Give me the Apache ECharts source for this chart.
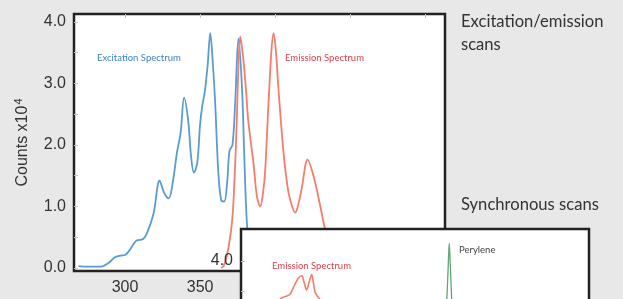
<!DOCTYPE html>
<html>
<head>
<meta charset="utf-8">
<script src="https://cdn.jsdelivr.net/npm/echarts@6.0.0/dist/echarts.min.js"></script>
<style>
  html, body { margin: 0; padding: 0; background: #e8e8e8; }
  #main { width: 623px; height: 299px; }
</style>
</head>
<body>
<div id="main"></div>
<script>
// excitation / emission scans (main plot)
const excitationNm = [269, 276, 284, 289, 293, 297, 300, 303, 306, 308, 312, 315, 319, 323, 326, 329, 332, 334.5, 337, 339.3, 342, 344, 345.8, 348, 350, 351.5, 353, 355, 356.7, 358.5, 360, 362, 364, 366, 368, 369.5, 371.5, 373.3, 375.5, 377.8, 379.3, 381, 383, 386, 390];
const excitationCounts = [0.03, 0.02, 0.02, 0.08, 0.17, 0.2, 0.21, 0.29, 0.4, 0.45, 0.47, 0.59, 0.89, 1.42, 1.22, 1.13, 1.43, 1.87, 2.2, 2.77, 2.4, 1.8, 1.55, 1.7, 2.35, 2.65, 2.85, 3.3, 3.82, 3.3, 2.68, 1.59, 1.1, 1.08, 1.4, 1.9, 2.0, 2.68, 3.73, 2.95, 1.87, 0.78, 0.3, 0.05, 0.02];

const emissionNm = [364, 365.5, 367, 369, 371, 372, 373.5, 374.4, 375.5, 376.7, 378, 379, 380.5, 382, 385.5, 387.8, 390, 392, 393.3, 395.5, 397.5, 398.9, 400.5, 402, 405.5, 408, 410, 413.3, 416, 417.8, 421.5, 425.5, 430, 433.3, 437, 445, 460];
const emissionCounts = [0.0, 0.03, 0.12, 0.35, 0.7, 1.0, 1.8, 2.4, 3.3, 3.76, 3.55, 3.33, 2.9, 2.4, 1.7, 1.16, 1.0, 1.25, 1.59, 2.68, 3.55, 3.82, 3.5, 2.95, 1.87, 1.35, 1.1, 0.9, 1.1, 1.32, 1.76, 1.49, 1.0, 0.62, 0.35, 0.1, 0.03];

// synchronous scans (inset)
const syncEmissionNm = [290, 294, 298.4, 302.4, 306.5, 310, 313.3, 316, 318, 320, 322, 324.1, 325.5, 326.8, 328.7, 331, 335, 340];
const syncEmissionCounts = [2.9, 3.2, 3.38, 3.42, 3.46, 3.6, 3.72, 3.76, 3.65, 3.53, 3.65, 3.78, 3.65, 3.5, 3.43, 3.37, 3.1, 2.8];

const peryleneNm = [430, 433, 434.3, 435.3, 436, 436.7, 437.7, 439, 442];
const peryleneCounts = [2.5, 3.0, 3.5, 4.0, 4.29, 4.0, 3.5, 3.0, 2.5];

const wavelengthTicks = [300, 350, 400, 450, 500];
const countTicks = [0, 1, 2, 3, 4];
const minorCountTicks = [0, 0.5, 1, 1.5, 2, 2.5, 3, 3.5, 4];

const pairs = (xs, ys) => xs.map((x, i) => [x, ys[i]]);

const tickFont = 'Liberation Sans, Arial, sans-serif';
const noteFont = 'Lato, Open Sans, sans-serif';

const chart = echarts.init(document.getElementById('main'));

const topTicks = (gridIndex, min, max, z) => ({
  gridIndex: gridIndex,
  type: 'value',
  position: 'top',
  min: min,
  max: max,
  z: z,
  axisLine: { show: false },
  splitLine: { show: false },
  axisLabel: { show: false },
  axisTick: { inside: true, length: 4, customValues: wavelengthTicks, lineStyle: { color: '#c4c4c4' } }
});

const option = {
  backgroundColor: '#e8e8e8',
  animation: false,
  grid: [
    { left: 74, top: 14, width: 371, height: 257, outerBoundsMode: 'none', show: true, backgroundColor: '#fff', borderColor: '#222', borderWidth: 2.5, z: 0 },
    // inset runs off the bottom of the picture
    { left: 241, top: 229, width: 348, height: 278, outerBoundsMode: 'none', show: true, backgroundColor: '#fff', borderColor: '#222', borderWidth: 2.5, z: 10 }
  ],
  xAxis: [
    {
      gridIndex: 0,
      type: 'value',
      min: 266,
      max: 513,
      axisLine: { show: false },
      splitLine: { show: false },
      axisTick: { show: false },
      axisLabel: { customValues: wavelengthTicks, fontSize: 16, color: '#333', margin: 9, fontFamily: tickFont }
    },
    topTicks(0, 266, 513, 0),
    topTicks(1, 266.7, 549.6, 11)
  ],
  yAxis: [
    {
      gridIndex: 0,
      type: 'value',
      min: -0.05,
      max: 4.13,
      name: '{a|Counts x10}{b|4}',
      nameLocation: 'middle',
      nameRotate: 90,
      nameGap: 41,
      nameTextStyle: {
        rich: {
          a: { fontSize: 16, color: '#333', fontFamily: tickFont },
          b: { fontSize: 11, color: '#333', fontFamily: tickFont, padding: [0, 0, 9, 1] }
        }
      },
      axisLine: { show: false },
      splitLine: { show: false },
      axisTick: { inside: true, length: 4, customValues: minorCountTicks, lineStyle: { color: '#c4c4c4' } },
      axisLabel: { customValues: countTicks, formatter: v => v.toFixed(1), fontSize: 16, color: '#333', margin: 8, fontFamily: tickFont }
    },
    {
      gridIndex: 1,
      type: 'value',
      min: 0,
      max: 4.52,
      z: 11,
      axisLine: { show: false },
      splitLine: { show: false },
      axisTick: { inside: true, length: 4, customValues: minorCountTicks, lineStyle: { color: '#c4c4c4' } },
      axisLabel: { customValues: countTicks, formatter: v => v.toFixed(1), fontSize: 16, color: '#333', margin: 8, fontFamily: tickFont }
    }
  ],
  series: [
    {
      name: 'Excitation Spectrum', type: 'line', xAxisIndex: 0, yAxisIndex: 0, z: 2,
      data: pairs(excitationNm, excitationCounts), smooth: 0.35, showSymbol: false,
      lineStyle: { color: '#5b9bd3', width: 1.8 }
    },
    {
      name: 'Emission Spectrum', type: 'line', xAxisIndex: 0, yAxisIndex: 0, z: 3,
      data: pairs(emissionNm, emissionCounts), smooth: 0.35, showSymbol: false,
      lineStyle: { color: '#f47d6b', width: 1.8 }
    },
    {
      name: 'Synchronous Emission', type: 'line', xAxisIndex: 2, yAxisIndex: 1, z: 12,
      data: pairs(syncEmissionNm, syncEmissionCounts), smooth: 0.35, showSymbol: false,
      lineStyle: { color: '#f47d6b', width: 1.6 }
    },
    {
      name: 'Perylene', type: 'line', xAxisIndex: 2, yAxisIndex: 1, z: 12,
      data: pairs(peryleneNm, peryleneCounts), smooth: 0.3, showSymbol: false,
      lineStyle: { color: '#5fa774', width: 1.3 }
    }
  ],
  graphic: [
    { type: 'text', z: 20, style: { x: 97, y: 57.5, text: 'Excitation Spectrum', fontSize: 9.5, fill: '#3f7fc0', fontFamily: noteFont, verticalAlign: 'middle' } },
    { type: 'text', z: 20, style: { x: 285, y: 57.5, text: 'Emission Spectrum', fontSize: 9.5, fill: '#d9404d', fontFamily: noteFont, verticalAlign: 'middle' } },
    { type: 'text', z: 20, style: { x: 272, y: 266, text: 'Emission Spectrum', fontSize: 9.5, fill: '#d9404d', fontFamily: noteFont, verticalAlign: 'middle' } },
    { type: 'text', z: 20, style: { x: 459, y: 250, text: 'Perylene', fontSize: 9.5, fill: '#444', fontFamily: noteFont, verticalAlign: 'middle' } },
    { type: 'text', z: 20, style: { x: 461, y: 22, text: 'Excitation/emission', fontSize: 16.6, fill: '#333', fontFamily: noteFont, verticalAlign: 'middle' } },
    { type: 'text', z: 20, style: { x: 461, y: 45, text: 'scans', fontSize: 16.6, fill: '#333', fontFamily: noteFont, verticalAlign: 'middle' } },
    { type: 'text', z: 20, style: { x: 461, y: 205, text: 'Synchronous scans', fontSize: 16.6, fill: '#333', fontFamily: noteFont, verticalAlign: 'middle' } }
  ]
};

chart.setOption(option);
</script>
</body>
</html>
